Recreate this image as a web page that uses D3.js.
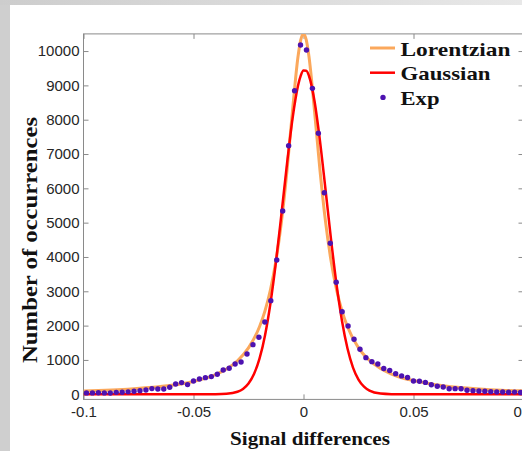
<!DOCTYPE html>
<html>
<head>
<meta charset="utf-8">
<script src="https://cdnjs.cloudflare.com/ajax/libs/d3/7.8.5/d3.min.js"></script>
<style>
  body { margin: 0; background: #fff; }
</style>
</head>
<body>
<svg id="chart" width="522" height="451"></svg>
<script>
// histogram of signal differences, 74 bins over [-0.1, 0.1]
var binStart = -0.1,
    binCount = 74,
    binWidth = 0.2 / binCount;

var expCounts = [40, 40, 45, 40, 38, 55, 60, 70, 88, 105,
  125, 165, 155, 155, 205, 300, 339, 281, 387, 446,
  484, 514, 582, 708, 757, 883, 941, 1174, 1446, 1660,
  2106, 2727, 3912, 5339, 7241, 8843, 10175, 10029, 8914, 7603,
  5872, 4398, 3262, 2406, 1990, 1602, 1311, 1067, 950, 880,
  750, 690, 600, 535, 490, 387, 379, 345, 275, 235,
  213, 160, 163, 160, 117, 105, 96, 87, 76, 67,
  67, 58, 62, 50];

// fitted curves
var lorentzX = [-0.1, -0.09, -0.08, -0.07, -0.06, -0.05, -0.045, -0.04, -0.035, -0.03,
  -0.025, -0.02, -0.0175, -0.015, -0.0125, -0.01, -0.0075, -0.005, -0.0025, -0.00125,
  0, 0.00125, 0.0025, 0.005, 0.0075, 0.01, 0.0125, 0.015, 0.0175, 0.02,
  0.025, 0.03, 0.035, 0.04, 0.045, 0.05, 0.06, 0.07, 0.08, 0.09, 0.1];
var lorentzY = [96, 118, 149, 194, 262, 374, 457, 572, 735, 975,
  1350, 1966, 2429, 3051, 3896, 5036, 6520, 8260, 9833, 10325,
  10500, 10325, 9833, 8260, 6520, 5036, 3896, 3051, 2429, 1966,
  1350, 985, 750, 590, 475, 400, 280, 205, 155, 120, 98];

var gaussX = [-0.1, -0.05, -0.045, -0.04, -0.035, -0.03, -0.0275, -0.025, -0.0225, -0.02,
  -0.0175, -0.015, -0.0125, -0.01, -0.0075, -0.005, -0.0025, -0.00125, 0, 0.00125,
  0.0025, 0.005, 0.0075, 0.01, 0.0125, 0.015, 0.0175, 0.02, 0.0225, 0.025,
  0.0275, 0.03, 0.035, 0.04, 0.045, 0.05, 0.1];
var gaussY = [0, 0, 0, 2, 13, 72, 155, 312, 589, 1037,
  1715, 2660, 3866, 5267, 6716, 8026, 8989, 9283, 9432, 9429,
  9274, 8543, 7375, 5966, 4521, 3207, 2134, 1331, 778, 426,
  219, 105, 20, 3, 0, 0, 0];

var xTicks = [-0.1, -0.05, 0, 0.05, 0.1];
var xTickLabels = ["-0.1", "-0.05", "0", "0.05", "0.1"];
var yTicks = [0, 1000, 2000, 3000, 4000, 5000, 6000, 7000, 8000, 9000, 10000];
var legendNames = ["Lorentzian", "Gaussian", "Exp"];

var W = 522, H = 451;
var plotLeft = 83.5, plotRight = 523.5, plotTop = 33.9, plotBottom = 399.4;

var svg = d3.select("#chart");

// window background
var defs = svg.append("defs");
var grad = defs.append("linearGradient").attr("id", "topStrip");
grad.append("stop").attr("offset", "0%").attr("stop-color", "#cdcdcd");
grad.append("stop").attr("offset", "100%").attr("stop-color", "#e8e8e8");
defs.append("clipPath").attr("id", "plotClip")
  .append("rect").attr("x", plotLeft).attr("y", plotTop)
  .attr("width", plotRight - plotLeft).attr("height", plotBottom - plotTop);

svg.append("rect").attr("width", W).attr("height", H).attr("fill", "#cfcfcf");
svg.append("rect").attr("width", W).attr("height", 5).attr("fill", "url(#topStrip)");
svg.append("rect").attr("x", 10).attr("y", 5).attr("width", W - 10).attr("height", H - 5).attr("fill", "#fff");

var x = d3.scaleLinear().domain([-0.1, 0.1]).range([plotLeft, plotRight]);
var y = d3.scaleLinear().domain([-150, 10500]).range([plotBottom, plotTop]);

var tickFont = "'Liberation Sans', Arial, sans-serif";
var serif = "'Liberation Serif', 'Times New Roman', serif";

// axes with inward ticks (box on)
function styleAxis(g) {
  g.select(".domain").remove();
  g.selectAll(".tick line").attr("stroke", "#8a8a8a");
  g.selectAll(".tick text").attr("fill", "#262626")
    .attr("font-family", tickFont).attr("font-size", "15px");
}

svg.append("g").attr("transform", "translate(" + plotLeft + ",0)")
  .call(d3.axisLeft(y).tickValues(yTicks).tickSizeInner(-5).tickSizeOuter(0).tickPadding(4).tickFormat(d3.format("d")))
  .call(styleAxis);
svg.append("g").attr("transform", "translate(" + plotRight + ",0)")
  .call(d3.axisRight(y).tickValues(yTicks).tickSizeInner(-5).tickSizeOuter(0).tickFormat(""))
  .call(styleAxis);
svg.append("g").attr("transform", "translate(0," + plotBottom + ")")
  .call(d3.axisBottom(x).tickValues(xTicks).tickSizeInner(-5).tickSizeOuter(0).tickPadding(7)
    .tickFormat(function (d, i) { return xTickLabels[i]; }))
  .call(styleAxis);
svg.append("g").attr("transform", "translate(0," + plotTop + ")")
  .call(d3.axisTop(x).tickValues(xTicks).tickSizeInner(-5).tickSizeOuter(0).tickFormat(""))
  .call(styleAxis);

svg.append("rect").attr("x", plotLeft).attr("y", plotTop)
  .attr("width", plotRight - plotLeft).attr("height", plotBottom - plotTop)
  .attr("fill", "none").attr("stroke", "#8a8a8a").attr("stroke-width", 1);

var plot = svg.append("g").attr("clip-path", "url(#plotClip)");

var line = d3.line()
  .x(function (d) { return x(d[0]); })
  .y(function (d) { return y(d[1]); })
  .curve(d3.curveMonotoneX);

plot.append("path")
  .datum(d3.zip(lorentzX, lorentzY))
  .attr("d", line)
  .attr("fill", "none")
  .attr("stroke", "#fba85c")
  .attr("stroke-width", 3);

plot.append("path")
  .datum(d3.zip(gaussX, gaussY))
  .attr("d", line)
  .attr("fill", "none")
  .attr("stroke", "#ff0000")
  .attr("stroke-width", 2.5);

plot.selectAll(".dot").data(expCounts).enter()
  .append("circle")
    .attr("class", "dot")
    .attr("cx", function (d, i) { return x(binStart + (i + 0.5) * binWidth); })
    .attr("cy", function (d) { return y(d); })
    .attr("r", 2.7)
    .attr("fill", "#4d12b0");

// legend (no box)
var legendWidths = [110, 90, 39];
var legend = svg.append("g");
legendNames.forEach(function (name, i) {
  var yy = 48 + i * 24.7;
  if (i == 0) {
    legend.append("line").attr("x1", 370).attr("x2", 395).attr("y1", yy).attr("y2", yy)
      .attr("stroke", "#fba85c").attr("stroke-width", 3);
  } else if (i == 1) {
    legend.append("line").attr("x1", 370).attr("x2", 395).attr("y1", yy).attr("y2", yy)
      .attr("stroke", "#ff0000").attr("stroke-width", 2.5);
  } else {
    legend.append("circle").attr("cx", 383).attr("cy", yy).attr("r", 2.7).attr("fill", "#4d12b0");
  }
  legend.append("text")
    .attr("x", 400.5)
    .attr("y", yy + 7.5)
    .attr("font-family", serif)
    .attr("font-weight", "bold")
    .attr("font-size", "19px")
    .attr("fill", "#111")
    .attr("textLength", legendWidths[i])
    .attr("lengthAdjust", "spacingAndGlyphs")
    .text(name);
});

// axis titles
svg.append("text")
  .attr("x", 310).attr("y", 445)
  .attr("text-anchor", "middle")
  .attr("font-family", serif).attr("font-weight", "bold").attr("font-size", "18px")
  .attr("fill", "#111")
  .attr("textLength", 160).attr("lengthAdjust", "spacingAndGlyphs")
  .text("Signal differences");

svg.append("text")
  .attr("transform", "translate(37,240) rotate(-90)")
  .attr("text-anchor", "middle")
  .attr("font-family", serif).attr("font-weight", "bold").attr("font-size", "21px")
  .attr("fill", "#111")
  .attr("textLength", 246).attr("lengthAdjust", "spacingAndGlyphs")
  .text("Number of occurrences");
</script>
</body>
</html>
